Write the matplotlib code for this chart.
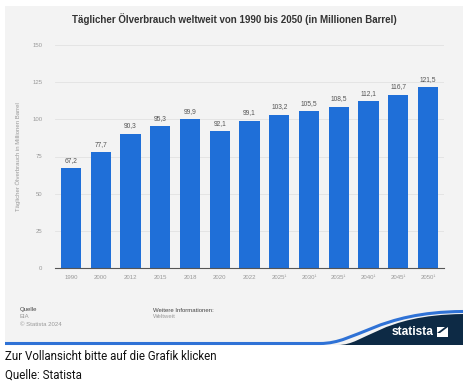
import numpy as np
import matplotlib
matplotlib.use("Agg")
from matplotlib import pyplot as plt
from matplotlib.patches import Rectangle, PathPatch, Polygon
from matplotlib.path import Path

# Daten
years = ['1990', '2000', '2012', '2015', '2018', '2020', '2022',
         '2025¹', '2030¹', '2035¹', '2040¹', '2045¹', '2050¹']
values = [67.2, 77.7, 90.3, 95.3, 99.9, 92.1, 99.1,
          103.2, 105.5, 108.5, 112.1, 116.7, 121.5]
yticks = [0, 25, 50, 75, 100, 125, 150]

title = 'Täglicher Ölverbrauch weltweit von 1990 bis 2050 (in Millionen Barrel)'
ylabel = 'Täglicher Ölverbrauch in Millionen Barrel'

W, H = 470, 384
fig = plt.figure(figsize=(W / 100, H / 100), dpi=100)
fig.patch.set_facecolor('white')

# Hintergrund-Achse in Pixelkoordinaten
bg = fig.add_axes([0, 0, 1, 1])
bg.set_xlim(0, W)
bg.set_ylim(H, 0)
bg.axis('off')

navy = '#0d2a45'
blue = '#2f72d6'
bg.add_patch(Rectangle((5, 6), 458, 339, color='#f3f3f3', lw=0))

# Welle unten rechts
stripe = [(5, 343.5), (320, 343.5), (357, 343.5), (377, 312), (463, 311.5)]
bg.add_patch(PathPatch(Path(stripe, [Path.MOVETO, Path.LINETO, Path.CURVE4,
                                     Path.CURVE4, Path.CURVE4]),
                       facecolor='none', edgecolor=blue, lw=2.2, zorder=1))
verts = [(338, 345), (365, 345), (380, 315), (463, 314), (463, 345), (338, 345)]
codes = [Path.MOVETO, Path.CURVE4, Path.CURVE4, Path.CURVE4, Path.LINETO, Path.CLOSEPOLY]
bg.add_patch(PathPatch(Path(verts, codes), facecolor=navy, edgecolor='none', zorder=2))

bg.text(234, 19, title, ha='center', va='center', fontsize=7.0,
        fontweight='bold', color='#333333', family='Liberation Sans')

ft = dict(fontsize=4.3, color='#999999', family='Liberation Sans', va='center')
bg.text(20, 310, 'Quelle', **dict(ft, color='#444444'))
bg.text(20, 317, 'EIA', **ft)
bg.text(20, 324, '© Statista 2024', **ft)
bg.text(153, 310, 'Weitere Informationen:', **dict(ft, color='#444444'))
bg.text(153, 317, 'Weltweit', **ft)

bg.text(433, 332, 'statista', ha='right', va='center', fontsize=8.6,
        fontweight='bold', color='white', family='Liberation Sans', zorder=3)
bg.add_patch(Rectangle((437, 327), 11, 10, color='white', lw=0, zorder=3))
bg.add_patch(Polygon([(437, 333), (445, 327), (448, 327), (440, 333)],
                     closed=True, color=navy, lw=0, zorder=4))

bg.text(5, 357, 'Zur Vollansicht bitte auf die Grafik klicken', ha='left',
        va='center', fontsize=8.3, color='#111111', family='Roboto')
bg.text(5, 375, 'Quelle: Statista', ha='left', va='center', fontsize=8.3,
        color='#111111', family='Roboto')

# Diagramm
ax = fig.add_axes([55 / W, 1 - 268 / H, (444 - 55) / W, (268 - 45) / H])
ax.set_facecolor('none')
x = np.arange(len(years))
ax.bar(x, values, width=0.68, color='#1f6fd8', zorder=3)
for xi, v in zip(x, values):
    ax.text(xi, v + 3, f'{v:.1f}'.replace('.', ','), ha='center', va='bottom',
            fontsize=4.8, color='#555555', family='Liberation Sans')

ax.set_xlim(-0.54, len(years) - 0.46)
ax.set_ylim(0, 150)
ax.set_yticks(yticks)
ax.set_yticklabels([str(t) for t in yticks], fontsize=4.3, color='#999999',
                   family='Liberation Sans')
ax.set_xticks(x)
ax.set_xticklabels(years, fontsize=4.3, color='#999999', family='Liberation Sans')
ax.tick_params(axis='both', length=0, pad=9)
ax.tick_params(axis='x', pad=5)
ax.grid(axis='y', color='#e2e2e2', lw=0.6, zorder=0)
for s in ['top', 'right', 'left']:
    ax.spines[s].set_visible(False)
ax.spines['bottom'].set_color('#555555')
ax.spines['bottom'].set_linewidth(0.8)
ax.spines['bottom'].set_zorder(4)
ax.set_ylabel(ylabel, fontsize=4.3, color='#999999', family='Liberation Sans',
              labelpad=8)

fig.savefig('out.png', dpi=100)
